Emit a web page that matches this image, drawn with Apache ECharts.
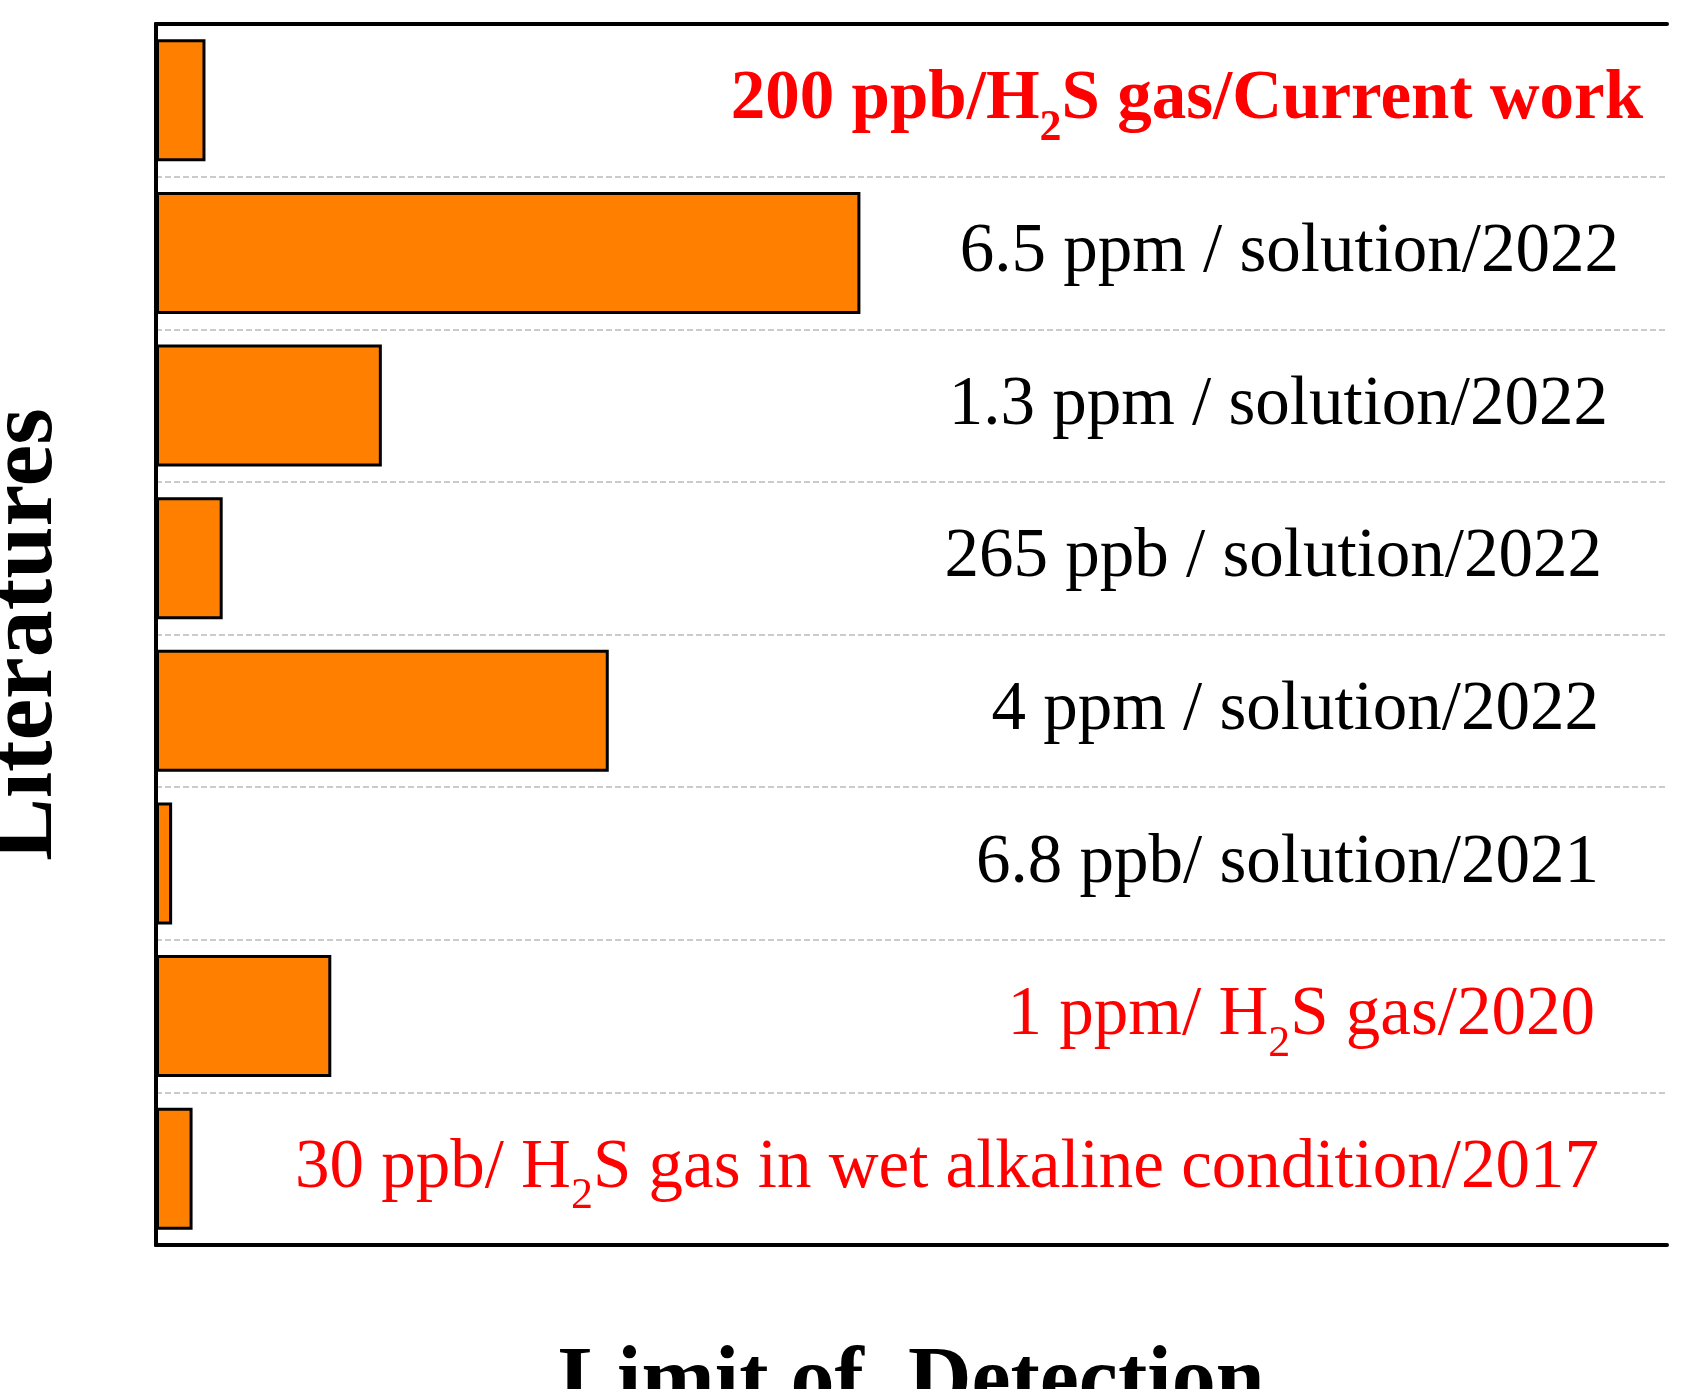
<!DOCTYPE html><html><head><meta charset="utf-8"><script src="https://cdn.jsdelivr.net/npm/echarts@6/dist/echarts.min.js"></script>
<style>html,body{margin:0;background:#fff}#c{width:1687px;height:1389px}</style></head><body><div id="c"></div><script>
const categories=['Current work','6.5 ppm','1.3 ppm','265 ppb','4 ppm','6.8 ppb','1 ppm','30 ppb'];
const barLengths=[46,655,210,62,421,15,163,34];
const labelTexts=['{rb|200 ppb/H}{rbs|2}{rb|S gas/Current work}','{k|6.5 ppm / solution/2022}','{k|1.3 ppm / solution/2022}','{k|265 ppb / solution/2022}','{k|4 ppm / solution/2022}','{k|6.8 ppb/ solution/2021}','{r|1 ppm/ H}{rs|2}{r|S gas/2020}','{r|30 ppb/ H}{rs|2}{r|S gas in wet alkaline condition/2017}'];
const labelMargins=[24,48,59,65,68,68,72,68];
const axisMax=1405;
const F='"Liberation Serif","Times New Roman",serif';
const rich={k:{fontFamily:F,fontSize:69,color:'#000'},r:{fontFamily:F,fontSize:69,color:'#ff0000'},rs:{fontFamily:F,fontSize:44,color:'#ff0000',verticalAlign:'bottom',padding:[56,0,0,0]},rb:{fontFamily:F,fontSize:69,fontWeight:'bold',color:'#ff0000'},rbs:{fontFamily:F,fontSize:44,fontWeight:'bold',color:'#ff0000',verticalAlign:'bottom',padding:[56,0,0,0]}};
const line={show:true,lineStyle:{color:'#000',width:4}};
const chart=echarts.init(document.getElementById('c'));
chart.setOption({animation:false,
grid:{left:156,right:20,top:24,bottom:144,outerBoundsMode:'none',containLabel:false},
xAxis:[{type:'value',min:0,max:axisMax,axisLabel:{show:false},axisTick:{show:false},splitLine:{show:false},axisLine:line,
 name:'Limit of  Detection',nameLocation:'middle',nameGap:95,nameTextStyle:{fontFamily:F,fontSize:88,fontWeight:'bold',color:'#000'}},
 {type:'value',position:'top',min:0,max:axisMax,axisLabel:{show:false},axisTick:{show:false},splitLine:{show:false},axisLine:line}],
yAxis:[{type:'category',data:categories,inverse:true,axisLabel:{show:false},axisTick:{show:false},axisLine:line,
 splitLine:{show:true,lineStyle:{type:'dashed',color:'#bbb',width:1.5}},
 name:'Literatures',nameLocation:'middle',nameGap:82,nameTextStyle:{fontFamily:F,fontSize:94,fontWeight:'bold',color:'#000'}},
 {type:'category',position:'right',data:categories,inverse:true,axisLabel:{show:false},axisTick:{show:false},axisLine:line,splitLine:{show:false}}],
series:[{type:'bar',data:barLengths,barWidth:'80%',itemStyle:{color:'#ff8000',borderColor:'#000',borderWidth:3},z:3},
{type:'bar',barGap:'-100%',barWidth:'80%',silent:true,itemStyle:{color:'rgba(0,0,0,0)'},z:4,
 data:labelTexts.map((t,i)=>({value:axisMax,label:{show:true,position:'insideRight',distance:0,offset:[-labelMargins[i],0],formatter:t,rich:rich}}))}]
});
</script></body></html>
